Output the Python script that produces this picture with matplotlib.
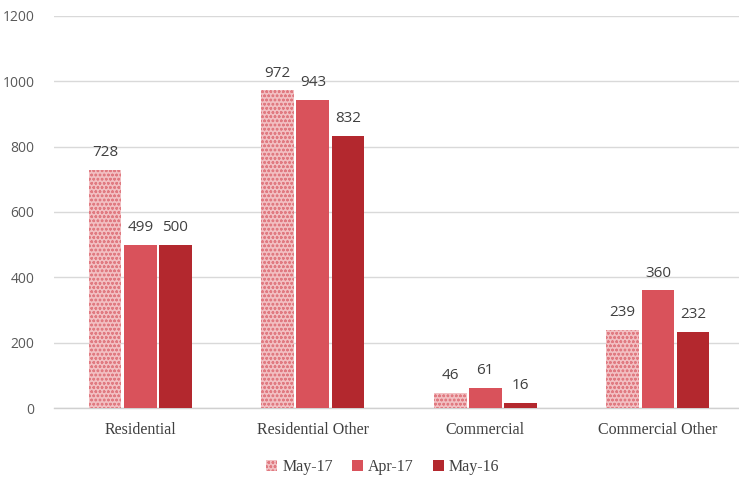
import matplotlib
matplotlib.use("Agg")
import matplotlib.pyplot as plt
import numpy as np

categories = ["Residential", "Residential Other", "Commercial", "Commercial Other"]
series_names = ["May-17", "Apr-17", "May-16"]
may17 = [728, 972, 46, 239]
apr17 = [499, 943, 61, 360]
may16 = [500, 832, 16, 232]
yticks = [0, 200, 400, 600, 800, 1000, 1200]

plt.rcParams['hatch.linewidth'] = 0.7
fig = plt.figure(figsize=(7.39, 4.80), dpi=100)
ax = fig.add_axes([0.0731, 0.15, 0.9269, 0.8167])

x = np.arange(len(categories))
step = 0.204
width = 0.19
styles = [
    dict(facecolor="#F2BFC2", edgecolor="#E07A81", hatch="oooo", linewidth=0),
    dict(facecolor="#D9525B", edgecolor="none", linewidth=0),
    dict(facecolor="#B3282E", edgecolor="none", linewidth=0),
]
handles = []
for i, (vals, name) in enumerate(zip([may17, apr17, may16], series_names)):
    bars = ax.bar(x + (i - 1) * step, vals, width, label=name, zorder=3, **styles[i])
    handles.append(bars)
    for b, v in zip(bars, vals):
        ax.annotate(str(v), (b.get_x() + b.get_width() / 2, v), xytext=(0, 7),
                    textcoords="offset points", ha="center", va="bottom",
                    fontsize=11, color="#404040", family="Open Sans")

ax.set_ylim(0, 1200)
ax.set_xlim(-0.5, 3.47)
ax.set_yticks(yticks)
ax.set_yticklabels([str(t) for t in yticks], family="Open Sans", fontsize=10, color="#595959")
ax.set_xticks(x)
ax.set_xticklabels(categories, family="Liberation Serif", fontsize=11.5, color="#404040")
ax.tick_params(axis="both", length=0)
ax.tick_params(axis="y", pad=14)
ax.tick_params(axis="x", pad=10)
ax.grid(axis="y", color="#D9D9D9", linewidth=1, zorder=0)
for s in ["top", "right", "left"]:
    ax.spines[s].set_visible(False)
ax.spines["bottom"].set_color("#D0D0D0")
ax.spines["bottom"].set_linewidth(1)

leg = fig.legend(handles=handles, labels=series_names, loc="center", bbox_to_anchor=(0.518, 0.027),
                 ncol=3, frameon=False, handlelength=0.7, handleheight=0.7, handletextpad=0.3,
                 columnspacing=1.2, prop={"family": "Liberation Serif", "size": 11.5})
for t in leg.get_texts():
    t.set_color("#404040")

fig.savefig("out.png", dpi=100)
